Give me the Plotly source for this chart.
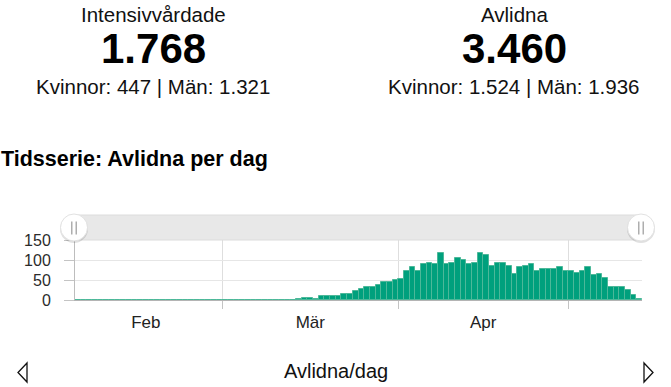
import pandas as pd
import plotly.graph_objects as go

# ---------------- data ----------------
start_date = "2020-02-04 12:00"
deaths_per_day = (
    [0] * 36
    + [1, 1, 1, 2, 5, 5, 2, 9, 9, 9, 10, 15, 15, 22, 27, 33, 33, 38, 44, 44, 49]      # Mar 11-31
    + [53, 73, 82, 73, 89, 93, 89, 117, 89, 93, 105, 101, 89, 93, 117,
       112, 86, 93, 93, 85, 65, 82, 85, 89, 73, 77, 77, 77, 82, 73]                    # Apr
    + [73, 68, 73, 82, 62, 66, 54, 33, 33, 33, 25, 12, 2]                               # May 1-13
)
dates = pd.date_range(start_date, periods=len(deaths_per_day), freq="D")

month_bounds = ["2020-03-01", "2020-04-01", "2020-05-01"]
month_label_pos = ["2020-02-16 12:00", "2020-03-16 12:00", "2020-04-16 00:00"]
month_labels = ["Feb", "Mär", "Apr"]
y_ticks = [0, 50, 100, 150]

kpi_titles = ["Intensivvårdade", "Avlidna"]
kpi_values = ["1.768", "3.460"]
kpi_split = ["Kvinnor: 447 | Män: 1.321", "Kvinnor: 1.524 | Män: 1.936"]
chart_title = "Tidsserie: Avlidna per dag"
footer_label = "Avlidna/dag"

# ---------------- layout geometry ----------------
W_PX, H_PX = 671, 387
L, R, T, B = 75, 29, 240, 87
PW = W_PX - L - R
PH = H_PX - T - B


def X(px):
    return (px - L) / PW


def Y(py):
    return (H_PX - B - py) / PH


FONT = "Liberation Sans, Arial, sans-serif"
GREEN = "#00a07d"

fig = go.Figure()
fig.add_trace(go.Bar(
    x=dates, y=deaths_per_day,
    width=86400000,
    marker=dict(color=GREEN, line=dict(color="#4cb899", width=1)),
    hoverinfo="x+y", showlegend=False,
))
fig.add_trace(go.Scatter(x=[], y=[], xaxis="x2", showlegend=False))

annotations = []
centers = [153, 514]
for cx, t, v, s in zip(centers, kpi_titles, kpi_values, kpi_split):
    annotations.append(dict(x=X(cx), y=Y(14.5), text=t, font=dict(family=FONT, size=20.5, color="#111")))
    annotations.append(dict(x=X(cx), y=Y(48.5), text="<b>" + v + "</b>", font=dict(family=FONT, size=42, color="#000")))
    annotations.append(dict(x=X(cx), y=Y(86.5), text=s, font=dict(family=FONT, size=20.5, color="#111")))
annotations.append(dict(x=X(0), y=Y(158.5), xanchor="left", text="<b>" + chart_title + "</b>",
                        font=dict(family=FONT, size=21.5, color="#000"), borderpad=0))
annotations.append(dict(x=X(336), y=Y(370.5), text=footer_label,
                        font=dict(family=FONT, size=20, color="#111")))
for a in annotations:
    a.update(xref="paper", yref="paper", showarrow=False)
    a.setdefault("xanchor", "center")
    a.setdefault("yanchor", "middle")

shapes = []
# range slider track
shapes.append(dict(type="rect", xref="paper", yref="paper", x0=X(74), x1=X(641), y0=Y(240), y1=Y(215),
                   fillcolor="#e8e8e8", line=dict(color="#dcdcdc", width=1), layer="above"))
for hx in [74, 641]:
    shapes.append(dict(type="circle", xref="paper", yref="paper", x0=X(hx - 14), x1=X(hx + 14),
                       y0=Y(243), y1=Y(214.5), fillcolor="rgba(0,0,0,0.12)", line=dict(width=0), layer="above"))
    shapes.append(dict(type="circle", xref="paper", yref="paper", x0=X(hx - 13.5), x1=X(hx + 13.5),
                       y0=Y(241), y1=Y(214), fillcolor="#ffffff", line=dict(color="#e2e2e2", width=1), layer="above"))
    for dx in [-2.2, 2.2]:
        shapes.append(dict(type="line", xref="paper", yref="paper", x0=X(hx + dx), x1=X(hx + dx),
                           y0=Y(221.5), y1=Y(234.5), line=dict(color="#9a9a9a", width=1.2), layer="above"))
# footer arrows
shapes.append(dict(type="path", xref="paper", yref="paper",
                   path=f"M {X(27)},{Y(363)} L {X(18)},{Y(372.5)} L {X(27)},{Y(382)} Z",
                   line=dict(color="#111", width=1.3), fillcolor="rgba(0,0,0,0)"))
shapes.append(dict(type="path", xref="paper", yref="paper",
                   path=f"M {X(644)},{Y(363)} L {X(653)},{Y(372.5)} L {X(644)},{Y(382)} Z",
                   line=dict(color="#111", width=1.3), fillcolor="rgba(0,0,0,0)"))

x_range = ["2020-02-04", "2020-05-14"]
fig.update_layout(
    width=W_PX, height=H_PX,
    margin=dict(l=L, r=R, t=T, b=B, pad=0),
    paper_bgcolor="#ffffff", plot_bgcolor="#ffffff",
    bargap=0,
    showlegend=False,
    annotations=annotations,
    shapes=shapes,
    xaxis=dict(type="date", range=x_range, tickmode="array", tickvals=month_bounds,
               ticktext=["" for _ in month_bounds], showgrid=True, gridcolor="#dedede", gridwidth=1,
               ticks="outside", ticklen=8, tickcolor="#c4c4c4", showline=True, linecolor="#b4b4b4",
               linewidth=1, zeroline=False, layer="below traces", fixedrange=True),
    xaxis2=dict(type="date", overlaying="x", range=x_range, tickmode="array", tickvals=month_label_pos,
                ticktext=month_labels, showgrid=False, ticks="", showline=False, zeroline=False,
                side="bottom", ticklabelstandoff=10,
                tickfont=dict(family=FONT, size=17, color="#222"), fixedrange=True),
    yaxis=dict(range=[0, 150], tickmode="array", tickvals=y_ticks, showgrid=True, gridcolor="#e6e6e6",
               ticks="outside", ticklen=10, tickcolor="#c4c4c4", showline=True, linecolor="#bdbdbd",
               zeroline=False, ticklabelstandoff=10, layer="below traces",
               tickfont=dict(family=FONT, size=16, color="#2b2b2b"), fixedrange=True),
)

fig.write_html("out.html", config={"displayModeBar": False},
               post_script="document.body.style.margin='0';document.body.style.overflow='hidden';")
